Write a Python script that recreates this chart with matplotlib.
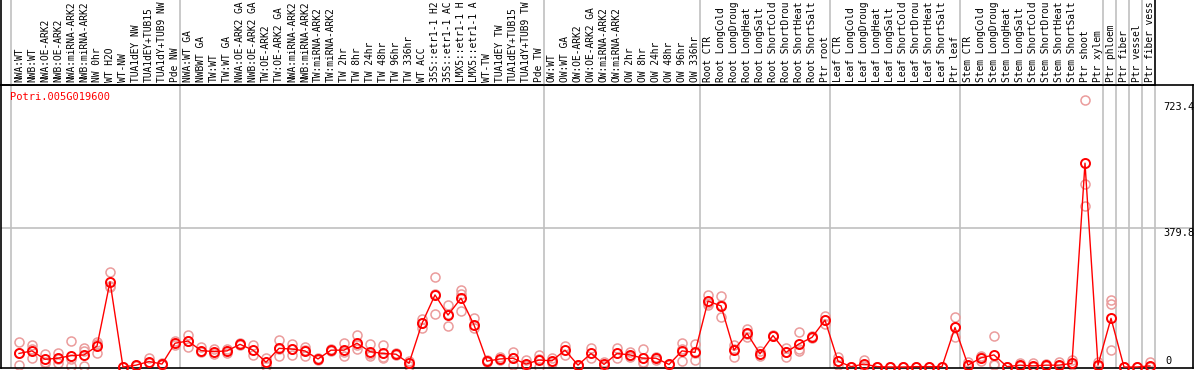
import matplotlib
matplotlib.use("Agg")
import matplotlib.pyplot as plt
from matplotlib.transforms import blended_transform_factory

gene = "Potri.005G019600"

# sample labels as displayed (the source shows at most 14 characters)
groups = [
    ["NWA:WT", "NWB:WT", "NWA:OE-ARK2", "NWB:OE-ARK2", "NWA:miRNA-ARK2", "NWB:miRNA-ARK2",
     "NW 0hr", "WT H2O", "WT-NW", "TUA1dEY NW", "TUA1dEY+TUB15", "TUA1dY+TUB9 NW", "Pde NW"],
    ["NWA:WT GA", "NWBWT GA", "TW:WT", "TW:WT GA", "NWA:OE-ARK2 GA", "NWB:OE-ARK2 GA",
     "TW:OE-ARK2", "TW:OE-ARK2 GA", "NWA:miRNA-ARK2", "NWB:miRNA-ARK2", "TW:miRNA-ARK2",
     "TW:miRNA-ARK2", "TW 2hr", "TW 8hr", "TW 24hr", "TW 48hr", "TW 96hr", "TW 336hr",
     "WT ACC", "35S::etr1-1 H2", "35S::etr1-1 AC", "LMX5::etr1-1 H", "LMX5::etr1-1 A",
     "WT-TW", "TUA1dEY TW", "TUA1dEY+TUB15", "TUA1dY+TUB9 TW", "Pde TW"],
    ["OW:WT", "OW:WT GA", "OW:OE-ARK2", "OW:OE-ARK2 GA", "OW:miRNA-ARK2", "OW:miRNA-ARK2",
     "OW 2hr", "OW 8hr", "OW 24hr", "OW 48hr", "OW 96hr", "OW 336hr"],
    ["Root CTR", "Root LongCold", "Root LongDroug", "Root LongHeat", "Root LongSalt",
     "Root ShortCold", "Root ShortDrou", "Root ShortHeat", "Root ShortSalt", "Ptr root"],
    ["Leaf CTR", "Leaf LongCold", "Leaf LongDroug", "Leaf LongHeat", "Leaf LongSalt",
     "Leaf ShortCold", "Leaf ShortDrou", "Leaf ShortHeat", "Leaf ShortSalt", "Ptr leaf"],
    ["Stem CTR", "Stem LongCold", "Stem LongDroug", "Stem LongHeat", "Stem LongSalt",
     "Stem ShortCold", "Stem ShortDrou", "Stem ShortHeat", "Stem ShortSalt", "Ptr shoot",
     "Ptr xylem"],
    ["Ptr phloem"],
    ["Ptr fiber"],
    ["Ptr vessel"],
    ["Ptr fiber vess"],
]

means = [
    # group 1
    37, 44, 21, 24, 31, 33, 57, 233, 0, 5, 15, 8, 65,
    # group 2
    71, 45, 42, 44, 62, 46, 13, 51, 49, 44, 22, 46, 46, 65, 42, 37, 35, 10,
    119, 197, 142, 188, 115, 16, 22, 24, 8, 19,
    # group 3
    17, 46, 5, 37, 7, 37, 33, 24, 24, 7, 44, 40,
    # group 4
    180, 167, 46, 92, 36, 86, 40, 63, 81, 128,
    # group 5
    16, 1, 8, 1, 0, 0, 1, 1, 1, 108,
    # group 6
    5, 25, 33, 1, 5, 3, 5, 5, 10, 557, 5,
    # single groups
    133, 0, 0, 3,
]

replicates = [
    [67, 37, 6], [60, 50, 24], [35, 15, 12], [38, 22, 12], [71, 21, 3], [51, 45, 3],
    [69, 62, 39], [259, 222, 219], [0, 0], [5, 3], [24, 10], [12, 5], [72, 60],
    [87, 72, 54], [54, 40], [48, 36], [38, 50], [65, 60], [60, 32], [24, 2], [74, 49, 30],
    [64, 48, 34], [55, 46, 31], [25, 19], [48, 44], [65, 42, 30], [87, 60, 48],
    [63, 35, 30], [60, 28, 24], [38, 32], [16, 4], [130, 120, 106], [245, 200, 144],
    [169, 145, 113], [210, 200, 153], [133, 106], [19, 13], [26, 18], [42, 24, 5],
    [18, 2, 5], [33, 22, 1],
    [24, 10], [58, 33], [5, 4], [51, 24], [14, 2], [53, 24], [40, 30, 28], [49, 13, 10],
    [28, 20], [5, 8], [65, 50, 16], [63, 38, 19],
    [197, 175, 169], [194, 170, 136], [60, 50, 28], [103, 90, 83], [45, 30], [88, 84],
    [53, 40, 28], [95, 50, 45], [84, 78], [140, 128, 117],
    [26, 16, 5], [1, 1], [20, 4], [1, 1], [0, 0], [0, 0], [1, 1], [1, 1], [1, 1],
    [137, 108, 81],
    [14, 2], [31, 28, 16], [86, 8, 5], [1, 1], [11, 2], [11, 0], [7, 4], [14, 2], [19, 6],
    [730, 500, 440], [14, 3],
    [183, 172, 46], [0, 0], [0, 0], [15, 0],
]

y_ticks = [0, 379.8, 723.4]
y_tick_labels = ["0", "379.8", "723.4"]

labels = [s for g in groups for s in g]
n = len(labels)
xs = list(range(n))

W, H = 1194, 370
fig = plt.figure(figsize=(W / 100, H / 100), dpi=100)

def px_rect(x0, y0, x1, y1):
    return [x0 / W, 1 - y1 / H, (x1 - x0) / W, (y1 - y0) / H]

# pixel mapping: index i -> 19 + 13 i
def idx(px):
    return (px - 19) / 13.0

ax = fig.add_axes(px_rect(1, 85, 1193, 368))
ax.set_xlim(idx(1), idx(1193))
zero_px, ref_px = 367.0, 228.0
scale = (zero_px - ref_px) / 379.8
ax.set_ylim(-(368 - zero_px) / scale, (zero_px - 85) / scale)
for s in ax.spines.values():
    s.set_color("black")
    s.set_linewidth(1.2)
ax.set_xticks([])
ax.set_yticks([])

lab = fig.add_axes(px_rect(1, 0, 1155, 85))
lab.set_xlim(idx(1), idx(1155))
lab.set_ylim(0, 85)
lab.set_xticks([])
lab.set_yticks([])
lab.patch.set_alpha(0)
lab.spines["top"].set_visible(False)
for k in ("left", "right", "bottom"):
    lab.spines[k].set_color("black")
    lab.spines[k].set_linewidth(1.2)

# separators
start = 0
bounds = []
for g in groups:
    bounds.append(start - 0.62)
    start += len(g)
for b in bounds:
    ax.axvline(b, color="#c0c0c0", lw=1.2, zorder=1)
    lab.axvline(b, color="#c0c0c0", lw=1.2, zorder=1)
ax.axvline(n - 0.62, color="#c0c0c0", lw=1.2, zorder=1)

ax.axhline(y_ticks[1], color="#c0c0c0", lw=1.2, zorder=1)

# labels
for x, t in zip(xs, labels):
    lab.text(x, 2.5, t, rotation=90, ha="center", va="bottom", fontsize=6.9,
             family="DejaVu Sans Mono", color="black")

# replicates
for x, reps in zip(xs, replicates):
    ax.plot([x] * len(reps), reps, linestyle="none", marker="o", markersize=6.5,
            markerfacecolor="none", markeredgecolor="#eb9c9c", markeredgewidth=1.1,
            zorder=2, clip_on=False)

ax.plot(xs, means, color="#ff0000", lw=1.0, zorder=3, clip_on=False)
ax.plot(xs, means, linestyle="none", marker="o", markersize=6.5, markerfacecolor="none",
        markeredgecolor="#ff0000", markeredgewidth=1.4, zorder=4, clip_on=False)

# y labels
tr = blended_transform_factory(ax.transAxes, ax.transData)
xl = (1163 - 1) / 1192
ax.text(xl, y_ticks[2], y_tick_labels[2], transform=tr, ha="left", va="top",
        fontsize=7.5, family="DejaVu Sans Mono")
ax.text(xl, y_ticks[1], y_tick_labels[1], transform=tr, ha="left", va="top",
        fontsize=7.5, family="DejaVu Sans Mono")
ax.text((1165 - 1) / 1192, 2, y_tick_labels[0], transform=tr, ha="left", va="bottom",
        fontsize=7.5, family="DejaVu Sans Mono")

ax.text((10 - 1) / 1192, (368 - 97) / 283, gene, transform=ax.transAxes, ha="left",
        va="center", fontsize=7.5, family="DejaVu Sans Mono", color="#ff0000")

fig.savefig("out.png", dpi=100)
